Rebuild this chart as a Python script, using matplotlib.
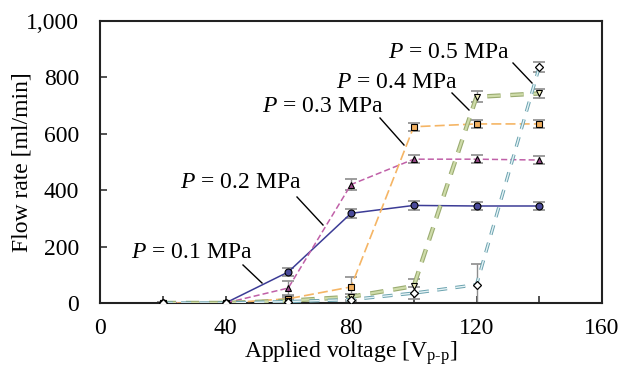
import matplotlib
matplotlib.use("Agg")
import matplotlib.pyplot as plt
import numpy as np

voltage = [20, 40, 60, 80, 100, 120, 140]
p01 = [0, 0, 110, 318, 346, 344, 344]
p02 = [0, 0, 53, 420, 510, 510, 507]
p03 = [0, 0, 15, 57, 625, 635, 635]
p04 = [0, 0, 8, 22, 60, 731, 743]
p05 = [0, 0, 5, 12, 35, 65, 837]

err01 = [5, 5, 15, 15, 15, 15, 15]
err02 = [5, 5, 25, 20, 15, 15, 15]
err03 = [5, 5, 10, 35, 15, 15, 15]
err04 = [5, 5, 10, 10, 25, 20, 15]
err05 = [5, 5, 5, 10, 20, 75, 18]

labels = ["P = 0.1 MPa", "P = 0.2 MPa", "P = 0.3 MPa", "P = 0.4 MPa", "P = 0.5 MPa"]

plt.rcParams['font.family'] = ['Liberation Serif', 'DejaVu Serif']
plt.rcParams['mathtext.fontset'] = 'custom'
plt.rcParams['mathtext.rm'] = 'Liberation Serif'
plt.rcParams['mathtext.it'] = 'Liberation Serif:italic'

FS = 17

fig = plt.figure(figsize=(6.36, 3.74), dpi=100)
ax = fig.add_axes([100/636, 1-303/374, 502/636, 282/374])

ecol = '#8c8c8c'

def errs(y, e):
    y = np.array(y, float); e = np.array(e, float)
    lo = np.minimum(e, y)
    return [lo, e]

# error bars
for y, e in [(p01, err01), (p02, err02), (p03, err03), (p04, err04), (p05, err05)]:
    ax.errorbar(voltage, y, yerr=errs(y, e), fmt='none', ecolor=ecol, elinewidth=1.0,
                capsize=4.5, capthick=1.2, zorder=2)

# P=0.1 solid blue circles
ax.plot(voltage, p01, '-', color='#3c3c96', lw=1.1, zorder=3)
ax.plot(voltage, p01, 'o', ms=5, mfc='#4a4a9a', mec='black', mew=0.8, zorder=6)
# P=0.2 pink dashed triangles
ax.plot(voltage, p02, '--', color='#c060a8', lw=1.1, dashes=(4, 2), zorder=3)
ax.plot(voltage, p02, '^', ms=5, mfc='#9a4a8a', mec='black', mew=0.8, zorder=6)
# P=0.3 orange dashed squares
ax.plot(voltage, p03, '--', color='#f5b565', lw=1.2, dashes=(6, 2.5), zorder=3)
ax.plot(voltage, p03, 's', ms=5, mfc='#f2b060', mec='black', mew=0.8, zorder=6)
# P=0.4 green hollow thick dashes, down triangles
ax.plot(voltage, p04, color='#9aab70', lw=3.2, dashes=(3, 2.2), zorder=4)
ax.plot(voltage, p04, color='#cfdcaa', lw=1.6, dashes=(3*3.2/1.6, 2.2*3.2/1.6), zorder=4)
ax.plot(voltage, p04, 'v', ms=5, mfc='#f3f3c0', mec='black', mew=0.8, zorder=6)
# P=0.5 teal hollow dashes, diamonds
ax.plot(voltage, p05, color='#6aa2ae', lw=2.4, dashes=(3, 2.5), zorder=4)
ax.plot(voltage, p05, color='#e6f3f6', lw=1.0, dashes=(3*2.4/1.0, 2.5*2.4/1.0), zorder=4)
ax.plot(voltage, p05, 'D', ms=4, mfc='white', mec='black', mew=0.9, zorder=6)

ax.set_xlim(0, 160)
ax.set_ylim(0, 1000)
ax.set_xticks([0, 40, 80, 120, 160])
ax.set_xticks([20, 60, 100, 140], minor=True)
ax.set_yticks([0, 200, 400, 600, 800, 1000])
ax.set_yticklabels(['0', '200', '400', '600', '800', '1,000'])
ax.tick_params(axis='both', which='both', direction='in', labelsize=FS, width=1.2, length=5, color='#333333')
ax.tick_params(axis='x', pad=11)
ax.tick_params(axis='y', pad=15)
for s in ax.spines.values():
    s.set_linewidth(1.5)
    s.set_color('#222222')

ax.set_xlabel(r'Applied voltage [V$_{\rm p\text{-}p}$]', fontsize=FS, labelpad=0)
ax.set_ylabel('Flow rate [ml/min]', fontsize=FS)
ax.yaxis.set_label_coords((33 - 100) / 502, 0.5)

def px2d(px, py):
    return ((px - 100) / (502 / 160), (303 - py) / (282 / 1000))

ann = [
    ((192, 252), (243, 265), (262, 283)),
    ((241, 183), (297, 197), (323, 225)),
    ((323, 107), (380, 118), (404, 145)),
    ((397, 83), (452, 93), (469, 110)),
    ((449, 53), (513, 63), (532, 83)),
]
for lab, (tc, l0, l1) in zip(labels, ann):
    tx, ty = px2d(*tc)
    ax.text(tx, ty, r'$\it{P}$' + lab[1:], fontsize=FS, ha='center', va='center', zorder=7)
    x0, y0 = px2d(*l0); x1, y1 = px2d(*l1)
    ax.plot([x0, x1], [y0, y1], color='black', lw=1.0, zorder=7)

fig.savefig('out.png', dpi=100)
